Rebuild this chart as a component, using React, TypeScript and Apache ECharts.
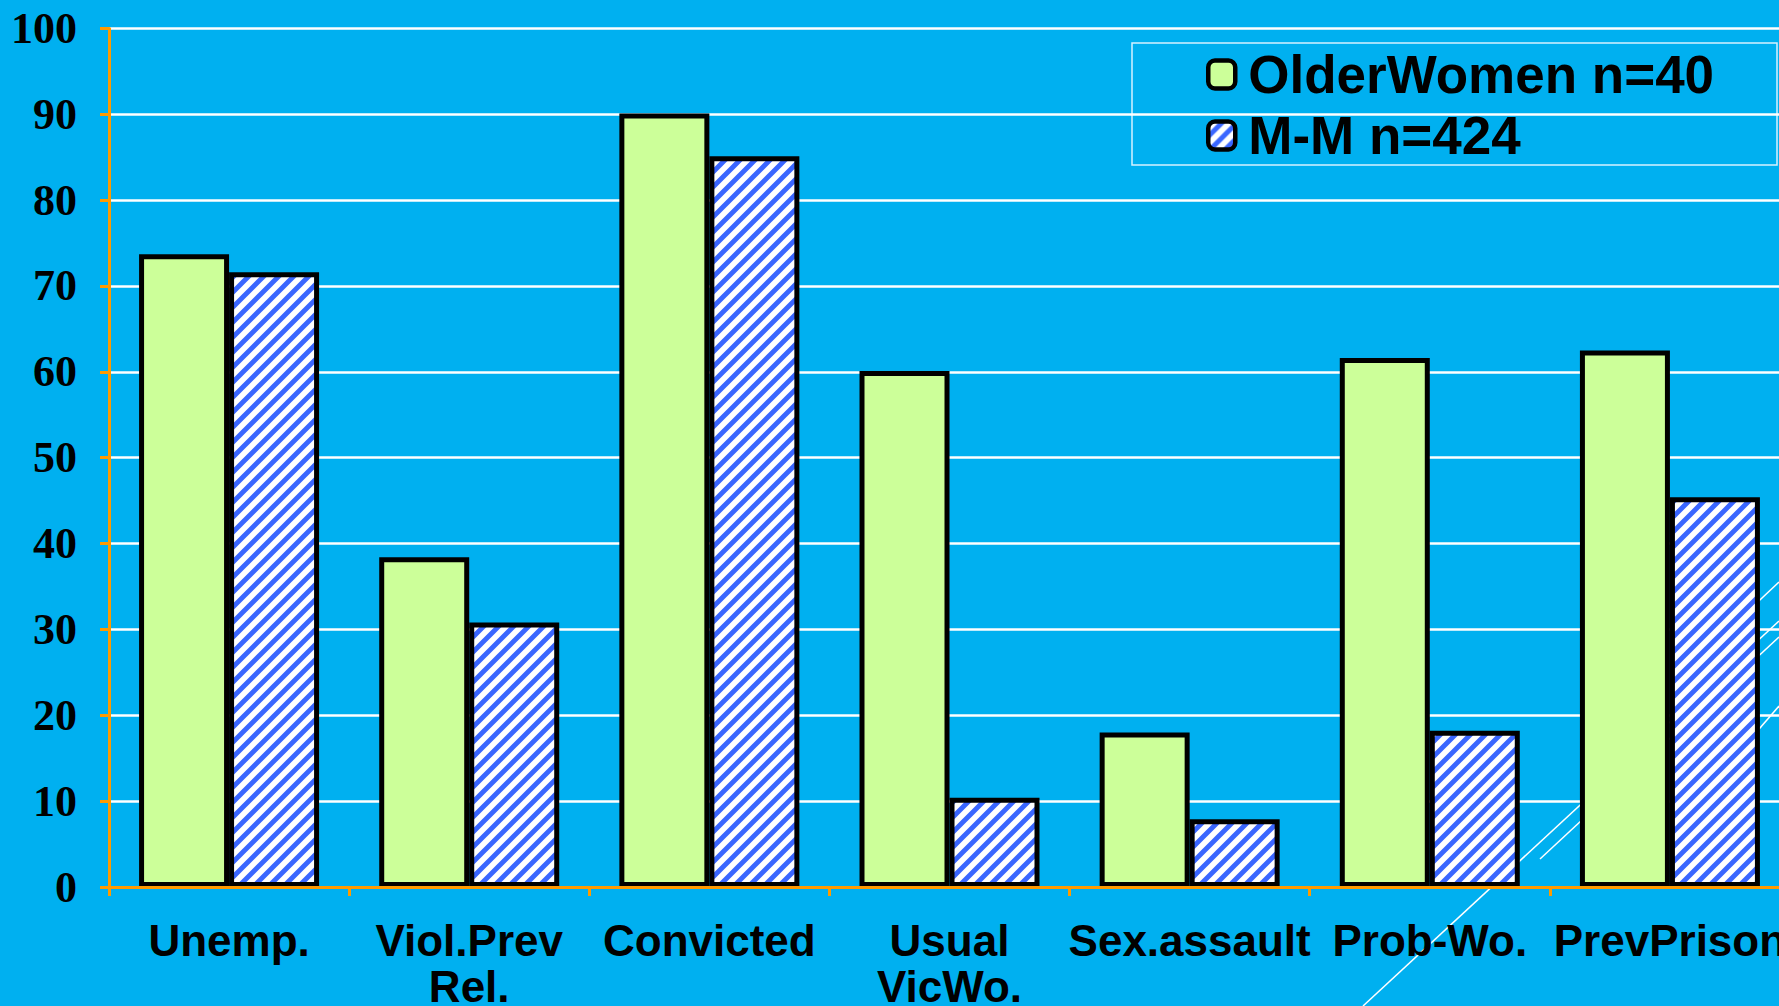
import React, { useEffect, useRef } from "react";
import * as echarts from "echarts";

const categories = [
  "Unemp.",
  "Viol.Prev\nRel.",
  "Convicted",
  "Usual\nVicWo.",
  "Sex.assault",
  "Prob-Wo.",
  "PrevPrison",
];
const olderWomen = [73.7, 38.4, 90.1, 60.1, 18.0, 61.6, 62.5];
const mm = [71.6, 30.8, 85.1, 10.4, 7.9, 18.2, 45.4];
const seriesNames = ["OlderWomen n=40", "M-M n=424"];
const yTicks = { min: 0, max: 100, interval: 10 };

const BG = "#00B0F0";
const ORANGE = "#FF9A00";
const GREEN = "#CCFF99";
const BLUE = "#3A66FF";
const SANS = "'Liberation Sans', Arial, sans-serif";
const SERIF = "'Liberation Serif', 'Times New Roman', serif";

function hatchPattern() {
  const s = 15;
  const e = 5;
  const svg =
    `<svg xmlns='http://www.w3.org/2000/svg' width='${s}' height='${s}'>` +
    `<rect width='${s}' height='${s}' fill='#ffffff'/>` +
    `<path d='M${-e},${e} L${e},${-e} M0,${s} L${s},0 M${s - e},${s + e} L${s + e},${s - e}' stroke='${BLUE}' stroke-width='4.9' fill='none'/>` +
    `</svg>`;
  return {
    image: "data:image/svg+xml;charset=utf-8," + encodeURIComponent(svg),
    repeat: "repeat",
    imageWidth: s,
    imageHeight: s,
  };
}

export default function App() {
  const ref = useRef<HTMLDivElement>(null);
  useEffect(() => {
    if (!ref.current) return;
    const chart = echarts.init(ref.current, null, { renderer: "svg" });
    const hatch = hatchPattern();
    chart.setOption({
      animation: false,
      backgroundColor: BG,
      grid: {
        left: 109,
        top: 28.4,
        width: 1681,
        height: 858.6,
        containLabel: false,
        outerBoundsMode: "none",
      },
      legend: {
        data: seriesNames,
        orient: "vertical",
        left: 1206,
        top: 48,
        padding: 0,
        itemWidth: 27,
        itemHeight: 28,
        itemGap: 8,
        icon: "roundRect",
        itemStyle: { borderColor: "#000", borderWidth: 4.5 },
        textStyle: {
          fontFamily: SANS,
          fontWeight: "bold",
          fontSize: 53,
          color: "#000",
          padding: [0, 0, 0, 8],
        },
      },
      xAxis: {
        type: "category",
        data: categories,
        z: 10,
        axisLine: { show: true, lineStyle: { color: ORANGE, width: 3 } },
        axisTick: { show: true, length: 9, alignWithLabel: false, lineStyle: { color: ORANGE, width: 3 } },
        axisLabel: {
          interval: 0,
          margin: 30,
          fontFamily: SANS,
          fontWeight: "bold",
          fontSize: 44,
          lineHeight: 46,
          color: "#000",
        },
        splitLine: { show: false },
      },
      yAxis: {
        type: "value",
        min: yTicks.min,
        max: yTicks.max,
        interval: yTicks.interval,
        axisLine: { show: true, lineStyle: { color: ORANGE, width: 3 } },
        axisTick: { show: true, inside: false, length: 9, lineStyle: { color: ORANGE, width: 3 } },
        axisLabel: {
          margin: 32,
          fontFamily: SERIF,
          fontWeight: "bold",
          fontSize: 44,
          color: "#000",
        },
        splitLine: { show: true, lineStyle: { color: "#ffffff", width: 2.5 } },
      },
      graphic: [
        {
          type: "rect",
          z: 0,
          silent: true,
          shape: { x: 1132, y: 43, width: 645, height: 122 },
          style: { fill: "none", stroke: "#d6f1ff", lineWidth: 1.5 },
        },
        {
          type: "line",
          z: 0,
          silent: true,
          shape: { x1: 1363, y1: 1006, x2: 1779, y2: 621 },
          style: { stroke: "#ffffff", lineWidth: 1.5 },
        },
        {
          type: "line",
          z: 0,
          silent: true,
          shape: { x1: 1540, y1: 859, x2: 1779, y2: 637 },
          style: { stroke: "#ffffff", lineWidth: 1.5 },
        },
        {
          type: "line",
          z: 0,
          silent: true,
          shape: { x1: 1740, y1: 751, x2: 1779, y2: 706 },
          style: { stroke: "#ffffff", lineWidth: 1.5 },
        },
        {
          type: "line",
          z: 0,
          silent: true,
          shape: { x1: 1745, y1: 614, x2: 1779, y2: 582 },
          style: { stroke: "#ffffff", lineWidth: 1.5 },
        },
      ],
      series: [
        {
          name: seriesNames[0],
          type: "bar",
          data: olderWomen,
          barWidth: 90,
          barGap: "0%",
          itemStyle: { color: GREEN, borderColor: "#000", borderWidth: 5 },
        },
        {
          name: seriesNames[1],
          type: "bar",
          data: mm,
          barWidth: 90,
          barGap: "0%",
          itemStyle: { color: hatch, borderColor: "#000", borderWidth: 5 },
        },
      ],
    });
    return () => chart.dispose();
  }, []);
  return (
    <div
      ref={ref}
      style={{ position: "absolute", left: 0, top: 0, width: 1779, height: 1006 }}
    />
  );
}
